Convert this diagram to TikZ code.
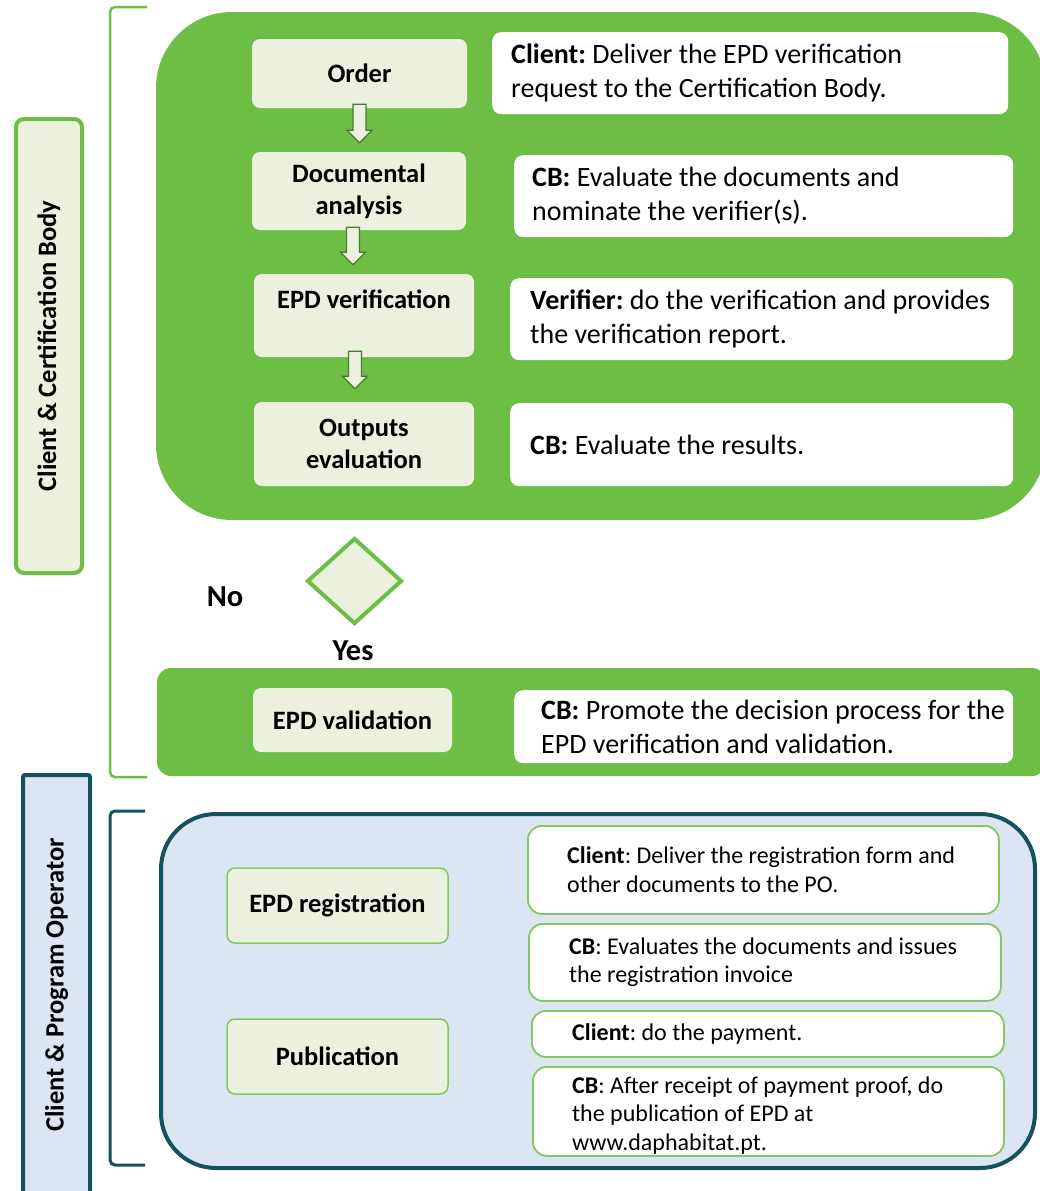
\documentclass[tikz,border=0pt]{standalone}
\usepackage{fontspec}
\setmainfont{Carlito}
\usetikzlibrary{shapes.geometric,calc}
\frenchspacing

\definecolor{leaf}{RGB}{109,190,69}
\definecolor{pale}{RGB}{235,241,222}
\definecolor{sky}{RGB}{220,230,242}
\definecolor{deepteal}{RGB}{20,83,94}

\tikzset{
  stagebox/.style={fill=pale, rounded corners=8pt, align=center, inner sep=0pt,
    font=\bfseries\fontsize{26.5}{32}\selectfont},
  lowstage/.style={stagebox, draw=leaf!85, line width=1.5pt},
  notebox/.style={fill=white, rounded corners=9pt, anchor=north west, inner sep=0pt},
  lownote/.style={notebox, draw=leaf!85, line width=1.8pt, rounded corners=14pt},
  notetext/.style={anchor=west, align=left, inner sep=0pt, font=\fontsize{28}{34}\selectfont},
  lowtext/.style={notetext, font=\fontsize{24}{28.5}\selectfont},
  sidelabel/.style={rotate=90, line width=4pt, inner sep=0pt,
    font=\bfseries\fontsize{26.5}{30}\selectfont},
  flowarrow/.style={fill=pale, draw=leaf!65!black, line width=1.2pt, line join=miter},
  answer/.style={font=\bfseries\fontsize{30.5}{34}\selectfont}
}

\begin{document}
\begin{tikzpicture}[x=1pt, y=-1pt]
\useasboundingbox (0,0) rectangle (1040,1191);

% side labels and brackets
\node[sidelabel, fill=pale, draw=leaf, rounded corners=8pt, minimum width=454pt, minimum height=66pt] (cblabel) at (49,346) {Client \& Certification Body};
\node[sidelabel, fill=sky, draw=deepteal, rounded corners=2pt, minimum width=420pt, minimum height=67pt] (polabel) at (56.5,985) {Client \& Program Operator};
\draw[leaf, line width=2.5pt, rounded corners=5pt] (147,7) -- (110,7) -- (110,777) -- (147,777);
\draw[deepteal, line width=3pt, rounded corners=5pt] (145,811) -- (110,811) -- (110,1165) -- (145,1165);

% certification body part
\fill[leaf, rounded corners=76pt] (156,12) rectangle (1046,520);
\fill[leaf, rounded corners=14pt] (157,668) rectangle (1046,776);

\node[stagebox, minimum width=215pt, minimum height=69pt] (order) at (359.5,73.5) {Order};
\node[stagebox, minimum width=214pt, minimum height=78pt] (docs) at (359,191) {Documental\\analysis};
\node[stagebox, minimum width=220pt, minimum height=83pt] (verif) at (364,315.5) {EPD verification\\~};
\node[stagebox, minimum width=220pt, minimum height=84pt] (outputs) at (364,444) {Outputs\\evaluation};
\node[stagebox, minimum width=199pt, minimum height=64pt] (valid) at (352.5,720) {EPD validation};

% block arrows between the steps
\filldraw[flowarrow] ([xshift=-6.5pt,yshift=4pt]order.south) -- ++(13,0) -- ++(0,26) -- ++(6,0) -- ++(-12.5,12.5) -- ++(-12.5,-12.5) -- ++(6,0) -- cycle;
\filldraw[flowarrow] ([xshift=-12.5pt,yshift=3pt]docs.south) -- ++(13,0) -- ++(0,25) -- ++(6,0) -- ++(-12.5,12.5) -- ++(-12.5,-12.5) -- ++(6,0) -- cycle;
\filldraw[flowarrow] ([xshift=-15.5pt,yshift=6pt]verif.south) -- ++(13,0) -- ++(0,25) -- ++(6,0) -- ++(-12.5,12.5) -- ++(-12.5,-12.5) -- ++(6,0) -- cycle;

\node[notebox, minimum width=516pt, minimum height=82pt] (n1) at (492,32) {};
\node[notetext] at ([xshift=19pt]n1.west) {\textbf{Client:} Deliver the EPD verification\\request to the Certification Body.};
\node[notebox, minimum width=499pt, minimum height=82pt] (n2) at (514,155) {};
\node[notetext] at ([xshift=18pt]n2.west) {\textbf{CB:} Evaluate the documents and\\nominate the verifier(s).};
\node[notebox, minimum width=503pt, minimum height=82pt] (n3) at (510,278) {};
\node[notetext] at ([xshift=20pt]n3.west) {\textbf{Verifier:} do the verification and provides\\the verification report.};
\node[notebox, minimum width=503pt, minimum height=83pt] (n4) at (510,403) {};
\node[notetext] at ([xshift=20pt]n4.west) {\textbf{CB:} Evaluate the results.};
\node[notebox, minimum width=499pt, minimum height=73pt] (nv) at (514,690) {};
\node[notetext] at ([xshift=27pt]nv.west) {\textbf{CB:} Promote the decision process for the\\EPD verification and validation.};

% decision
\node[diamond, fill=pale, draw=leaf, line width=4pt, minimum width=95pt, minimum height=86pt, inner sep=0pt] (check) at (354.5,581) {};
\node[answer] (no) at (225,597) {No};
\node[answer] (yes) at (353,651) {Yes};

% program operator part
\filldraw[fill=sky, draw=deepteal, line width=4pt, rounded corners=55pt] (161,814) rectangle (1035,1168);

\node[lowstage, minimum width=221pt, minimum height=75pt] (reg) at (337.5,905.5) {EPD registration};
\node[lowstage, minimum width=221pt, minimum height=75pt] (pub) at (337.5,1056.5) {Publication};

\node[lownote, minimum width=471pt, minimum height=88pt] (ra) at (527,825) {};
\node[lowtext] at ([xshift=40pt]ra.west) {\textbf{Client}: Deliver the registration form and\\other documents to the PO.};
\node[lownote, minimum width=472pt, minimum height=77pt] (rb) at (528,923) {};
\node[lowtext] at ([xshift=41pt]rb.west) {\textbf{CB}: Evaluates the documents and issues\\the registration invoice};
\node[lownote, minimum width=472pt, minimum height=46pt] (pa) at (531,1010) {};
\node[lowtext] at ([xshift=41pt]pa.west) {\textbf{Client}: do the payment.};
\node[lownote, minimum width=471pt, minimum height=89pt] (pb) at (532,1066) {};
\node[lowtext] at ([xshift=40pt,yshift=-4pt]pb.west) {\textbf{CB}: After receipt of payment proof, do\\the publication of EPD at\\www.daphabitat.pt.};
\end{tikzpicture}
\end{document}
